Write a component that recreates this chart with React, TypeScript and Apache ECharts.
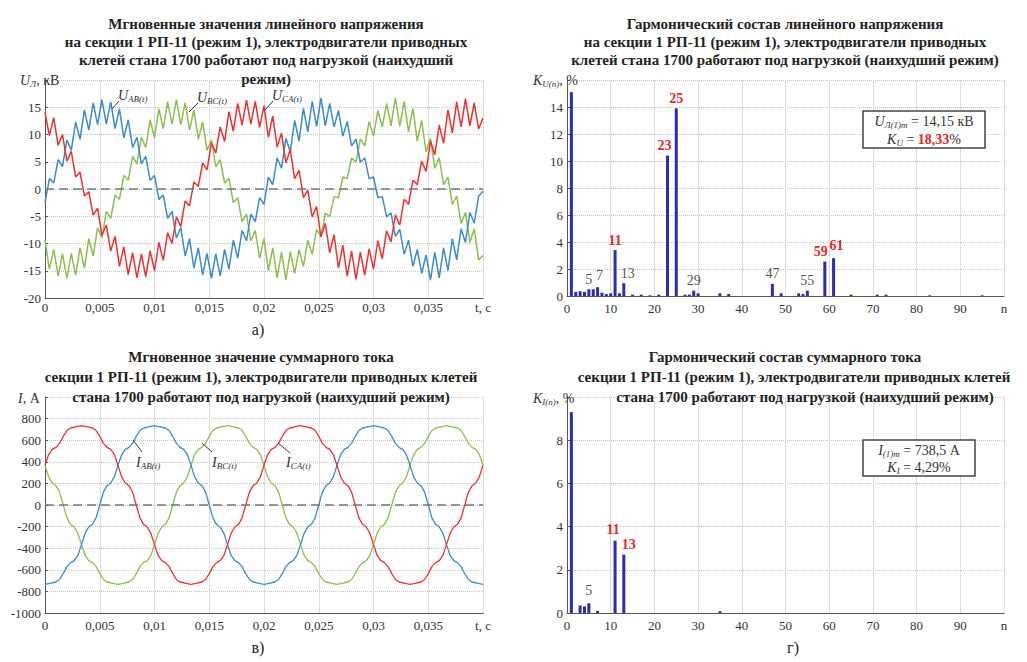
import React, { useEffect, useRef } from "react";
import * as echarts from "echarts";

const FONT = "Liberation Serif";
const RED = "#e8252b";
const C_BLUE = "#3a8bd0";
const C_GREEN = "#8cbf4f";
const C_RED = "#f03030";
const BAR = "#2b2bb8";

// ---------- time grids ----------
const TIME_U = [0,0.0004,0.0008,0.0012,0.0016,0.002,0.0024,0.0028,0.0032,0.0036,0.004,0.0044,0.0048,0.0052,0.0056,0.006,0.0064,0.0068,0.0072,0.0076,0.008,0.0084,0.0088,0.0092,0.0096,0.01,0.0104,0.0108,0.0112,0.0116,0.012,0.0124,0.0128,0.0132,0.0136,0.014,0.0144,0.0148,0.0152,0.0156,0.016,0.0164,0.0168,0.0172,0.0176,0.018,0.0184,0.0188,0.0192,0.0196,0.02,0.0204,0.0208,0.0212,0.0216,0.022,0.0224,0.0228,0.0232,0.0236,0.024,0.0244,0.0248,0.0252,0.0256,0.026,0.0264,0.0268,0.0272,0.0276,0.028,0.0284,0.0288,0.0292,0.0296,0.03,0.0304,0.0308,0.0312,0.0316,0.032,0.0324,0.0328,0.0332,0.0336,0.034,0.0344,0.0348,0.0352,0.0356,0.036,0.0364,0.0368,0.0372,0.0376,0.038,0.0384,0.0388,0.0392,0.0396,0.04];

const TIME_I = [0,0.000333,0.000667,0.001,0.001333,0.001667,0.002,0.002333,0.002667,0.003,0.003333,0.003667,0.004,0.004333,0.004667,0.005,0.005333,0.005667,0.006,0.006333,0.006667,0.007,0.007333,0.007667,0.008,0.008333,0.008667,0.009,0.009333,0.009667,0.01,0.010333,0.010667,0.011,0.011333,0.011667,0.012,0.012333,0.012667,0.013,0.013333,0.013667,0.014,0.014333,0.014667,0.015,0.015333,0.015667,0.016,0.016333,0.016667,0.017,0.017333,0.017667,0.018,0.018333,0.018667,0.019,0.019333,0.019667,0.02,0.020333,0.020667,0.021,0.021333,0.021667,0.022,0.022333,0.022667,0.023,0.023333,0.023667,0.024,0.024333,0.024667,0.025,0.025333,0.025667,0.026,0.026333,0.026667,0.027,0.027333,0.027667,0.028,0.028333,0.028667,0.029,0.029333,0.029667,0.03,0.030333,0.030667,0.031,0.031333,0.031667,0.032,0.032333,0.032667,0.033,0.033333,0.033667,0.034,0.034333,0.034667,0.035,0.035333,0.035667,0.036,0.036333,0.036667,0.037,0.037333,0.037667,0.038,0.038333,0.038667,0.039,0.039333,0.039667,0.04];

// ---------- line voltages, kV ----------
const U_AB = [-2.5,1.9,1.1,5.4,4.1,9.0,7.1,12.3,9.1,14.5,10.8,15.8,11.8,16.4,11.9,16.0,11.1,14.7,9.4,12.7,7.6,9.5,4.6,6.0,1.6,2.5,-1.9,-1.1,-5.4,-4.1,-9.0,-7.1,-12.3,-9.1,-14.5,-10.8,-15.8,-11.8,-16.4,-11.9,-16.0,-11.1,-14.7,-9.4,-12.7,-7.6,-9.5,-4.6,-6.0,-1.6,
  -2.8,2.2,0.8,5.7,3.8,9.3,6.8,12.6,8.8,14.8,10.5,16.1,11.5,16.7,11.6,15.7,11.4,14.4,9.7,12.4,7.9,9.2,4.9,5.7,1.9,2.2,-1.6,-1.4,-5.1,-4.4,-8.7,-7.4,-12.0,-9.4,-14.2,-11.1,-15.5,-12.1,-16.7,-11.6,-16.3,-10.8,-15.0,-9.1,-13.0,-7.3,-9.8,-4.3,-6.3,-1.3,-0.4];
const U_BC = [-9.4,-14.7,-11.1,-16.0,-11.9,-16.4,-11.8,-15.8,-10.8,-14.5,-9.1,-12.3,-7.1,-9.0,-4.1,-5.4,-1.1,-1.9,2.5,1.6,6.0,4.6,9.5,7.6,12.7,9.4,14.7,11.1,16.0,11.9,16.4,11.8,15.8,10.8,14.5,9.1,12.3,7.1,9.0,4.1,5.4,1.1,1.9,-2.5,-1.6,-6.0,-4.6,-9.5,-7.6,-12.7,
  -9.1,-15.0,-10.8,-16.3,-11.6,-16.7,-11.5,-15.5,-11.1,-14.2,-9.4,-12.0,-7.4,-8.7,-4.4,-5.1,-1.4,-1.6,2.2,1.9,5.7,4.9,9.2,7.9,12.4,9.7,14.4,11.4,15.7,11.6,16.7,11.5,16.1,10.5,14.8,8.8,12.6,6.8,9.3,3.8,5.7,0.8,2.2,-2.8,-1.3,-6.3,-4.3,-9.8,-7.3,-13.0,-12.2];
const U_CA = [14.0,9.8,13.1,8.0,10.0,5.1,6.9,2.2,3.1,-1.3,-0.5,-4.8,-3.5,-8.5,-6.6,-11.4,-8.7,-14.2,-10.6,-15.7,-11.7,-16.3,-11.9,-16.1,-11.3,-15.0,-9.8,-13.1,-8.0,-10.0,-5.1,-6.9,-2.2,-3.1,1.3,0.5,4.8,3.5,8.5,6.6,11.4,8.7,14.2,10.6,15.7,11.7,16.3,11.9,16.1,11.3,
  15.3,9.5,13.4,7.7,10.3,4.8,7.2,1.9,3.4,-1.6,-0.2,-5.1,-3.2,-8.8,-6.3,-11.7,-8.4,-14.5,-10.3,-16.0,-11.4,-16.6,-11.6,-15.8,-11.0,-14.7,-9.5,-12.8,-7.7,-9.7,-4.8,-6.6,-1.9,-2.8,1.6,0.8,5.1,3.2,8.8,6.3,11.7,8.4,14.5,10.3,16.0,11.4,16.6,11.6,15.8,11.0,13.0];

// ---------- currents, A ----------
const I_AB = [-734,-728,-720,-713,-690,-636,-571,-533,-515,-467,-367,-261,-204,-179,-119,0,119,179,204,261,367,467,515,533,571,636,690,713,720,728,
  734,728,720,713,690,636,571,533,515,467,367,261,204,179,119,0,-119,-179,-204,-261,-367,-467,-515,-533,-571,-636,-690,-713,-720,-728,
  -734,-728,-720,-713,-690,-636,-571,-533,-515,-467,-367,-261,-204,-179,-119,0,119,179,204,261,367,467,515,533,571,636,690,713,720,728,
  734,728,720,713,690,636,571,533,515,467,367,261,204,179,119,0,-119,-179,-204,-261,-367,-467,-515,-533,-571,-636,-690,-713,-720,-728,-734];
const I_BC = [367,261,204,179,119,0,-119,-179,-204,-261,-367,-467,-515,-533,-571,-636,-690,-713,-720,-728,-734,-728,-720,-713,-690,-636,-571,-533,-515,-467,-367,-261,-204,-179,-119,0,119,179,204,261,367,467,515,533,571,636,690,713,720,728,
  734,728,720,713,690,636,571,533,515,467,367,261,204,179,119,0,-119,-179,-204,-261,-367,-467,-515,-533,-571,-636,-690,-713,-720,-728,-734,-728,-720,-713,-690,-636,-571,-533,-515,-467,-367,-261,-204,-179,-119,0,119,179,204,261,367,467,515,533,571,636,690,713,720,728,
  734,728,720,713,690,636,571,533,515,467,367];
const I_CA = [367,467,515,533,571,636,690,713,720,728,
  734,728,720,713,690,636,571,533,515,467,367,261,204,179,119,0,-119,-179,-204,-261,-367,-467,-515,-533,-571,-636,-690,-713,-720,-728,-734,-728,-720,-713,-690,-636,-571,-533,-515,-467,-367,-261,-204,-179,-119,0,119,179,204,261,367,467,515,533,571,636,690,713,720,728,
  734,728,720,713,690,636,571,533,515,467,367,261,204,179,119,0,-119,-179,-204,-261,-367,-467,-515,-533,-571,-636,-690,-713,-720,-728,-734,-728,-720,-713,-690,-636,-571,-533,-515,-467,-367,-261,-204,-179,-119,0,119,179,204,261,367];

// ---------- harmonic spectra, % ----------
const HARM_U_N = [1,2,3,4,5,6,7,8,9,10,11,12,13,15,17,19,21,23,25,27,28,29,30,35,37,47,49,53,54,55,59,61,65,71,73,83,95];
const HARM_U_VAL = [15.1,0.3,0.35,0.3,0.5,0.5,0.65,0.25,0.15,0.2,3.4,0.2,0.95,0.1,0.1,0.05,0.1,10.4,13.9,0.1,0.1,0.4,0.2,0.2,0.15,0.9,0.2,0.2,0.15,0.4,2.55,2.8,0.1,0.1,0.1,0.05,0.05];
const HARM_U_LABELS: Record<number, string> = { 5: "g", 7: "g", 11: "r", 13: "g", 23: "r", 25: "r", 29: "g", 47: "g", 55: "g", 59: "r", 61: "r" };

const HARM_I_N = [1,3,4,5,7,11,13,35];
const HARM_I_VAL = [9.3,0.35,0.3,0.45,0.1,3.35,2.7,0.08];
const HARM_I_LABELS: Record<number, string> = { 5: "g", 11: "r", 13: "r" };

const LABEL_OFFSETS_U: Record<number, number[]> = { 13: [4, 0], 23: [-3, 0], 59: [-4, 0], 61: [3, -3], 7: [2, -2] };
const LABEL_OFFSETS_I: Record<number, number[]> = { 11: [-2, -1], 13: [5, 0], 5: [0, -3] };

const T_TICKS_FMT = (v: number) => {
  if (Math.abs(v - 0.04) < 1e-9) return "t, c";
  if (v === 0) return "0";
  return v.toFixed(3).replace(/0+$/, "").replace(".", ",");
};
const N_TICKS_FMT = (v: number) => (v === 100 ? "n" : String(v));

function zip(t: number[], v: number[]) {
  return t.map((x, i) => [x, v[i]]);
}

function barItems(ns: number[], vals: number[], labels: Record<number, string>, offs: Record<number, number[]>) {
  return ns.map((n, i) => {
    const lab = labels[n];
    const item: any = { value: [n, vals[i]] };
    if (lab) {
      item.label = {
        show: true,
        position: "top",
        distance: 3,
        formatter: String(n),
        color: lab === "r" ? RED : "#555",
        fontWeight: lab === "r" ? "bold" : "normal",
        fontSize: 14,
        fontFamily: FONT,
        offset: offs[n] || [0, 0],
      };
    }
    return item;
  });
}

const GRIDS = [
  { left: 45, top: 80, width: 438, height: 218 },
  { left: 567, top: 80, width: 437, height: 216 },
  { left: 45, top: 397, width: 438, height: 216 },
  { left: 567, top: 397, width: 437, height: 216 },
];

function xTime(gridIndex: number, margin: number) {
  return {
    type: "value", gridIndex, min: 0, max: 0.04, interval: 0.005,
    axisLine: { show: true, onZero: false, lineStyle: { color: "#555", width: 1 } },
    axisTick: { show: false },
    axisLabel: { color: "#333", fontSize: 13, fontFamily: FONT, formatter: T_TICKS_FMT, margin },
    splitLine: { show: true, lineStyle: { color: "#dcdcdc", width: 1 } },
  };
}
function xHarm(gridIndex: number) {
  return {
    type: "value", gridIndex, min: 0, max: 100, interval: 10,
    axisLine: { show: true, onZero: false, lineStyle: { color: "#555", width: 1.2 } },
    axisTick: { show: false },
    axisLabel: { color: "#333", fontSize: 13, fontFamily: FONT, formatter: N_TICKS_FMT, margin: 6 },
    splitLine: { show: true, lineStyle: { color: "#dcdcdc", width: 1 } },
  };
}
function yAx(gridIndex: number, min: number, max: number, interval: number) {
  return {
    type: "value", gridIndex, min, max, interval,
    axisLine: { show: true, onZero: false, lineStyle: { color: "#555", width: 1 } },
    axisTick: { show: true, inside: true, length: 3, lineStyle: { color: "#555" } },
    axisLabel: { color: "#333", fontSize: 13, fontFamily: FONT, margin: 4, formatter: (v: number) => (v === max ? "" : String(v)) },
    splitLine: { show: true, lineStyle: { color: "#c4c4c4", type: "dotted", width: 1 } },
  };
}

const RICH = {
  i: { fontFamily: FONT, fontStyle: "italic", fontSize: 14, lineHeight: 16, fill: "#333", verticalAlign: "middle" },
  s: { fontFamily: FONT, fontStyle: "italic", fontSize: 9, lineHeight: 8, fill: "#333", verticalAlign: "bottom" },
  n: { fontFamily: FONT, fontSize: 14, lineHeight: 16, fill: "#333", verticalAlign: "middle" },
  r: { fontFamily: FONT, fontSize: 14, lineHeight: 16, fill: RED, fontWeight: "bold", verticalAlign: "middle" },
};

function txt(text: string, x: number, y: number, extra: any = {}) {
  return {
    type: "text", x, y, z: 100,
    style: {
      text, fontFamily: FONT, fontSize: 15, fontWeight: "bold", fill: "#222",
      align: "center", textAlign: "center", verticalAlign: "middle", textVerticalAlign: "middle",
      ...extra,
    },
  };
}
function rich(text: string, x: number, y: number, align = "left") {
  return {
    type: "text", x, y, z: 100,
    style: { text, rich: RICH, align, textAlign: align, verticalAlign: "middle", textVerticalAlign: "middle", fill: "#333", fontFamily: FONT, fontSize: 14 },
  };
}
function seg(x1: number, y1: number, x2: number, y2: number) {
  return { type: "line", z: 100, shape: { x1, y1, x2, y2 }, style: { stroke: "#333", lineWidth: 1 } };
}

const zeroLine = {
  silent: true, symbol: "none", animation: false,
  label: { show: false },
  lineStyle: { type: [9, 5], color: "#777", width: 1.6 },
  data: [{ yAxis: 0 }],
};

function lineSeries(name: string, xi: number, t: number[], v: number[], color: string, width: number, extra: any = {}) {
  return {
    name, type: "line", xAxisIndex: xi, yAxisIndex: xi, data: zip(t, v),
    showSymbol: false, symbol: "none", smooth: false,
    lineStyle: { color, width }, itemStyle: { color }, ...extra,
  };
}

export default function App() {
  const ref = useRef<HTMLDivElement>(null);
  useEffect(() => {
    if (!ref.current) return;
    const chart = echarts.init(ref.current, undefined, { renderer: "svg" });
    const option: any = {
      animation: false,
      backgroundColor: "#fff",
      textStyle: { fontFamily: FONT },
      grid: GRIDS,
      xAxis: [xTime(0, 3), xHarm(1), xTime(2, 6), xHarm(3)],
      yAxis: [yAx(0, -20, 20, 5), yAx(1, 0, 16, 2), yAx(2, -1000, 1000, 200), yAx(3, 0, 10, 2)],
      series: [
        lineSeries("U_BC", 0, TIME_U, U_BC, C_GREEN, 1.5, { markLine: zeroLine }),
        lineSeries("U_AB", 0, TIME_U, U_AB, C_BLUE, 1.5),
        lineSeries("U_CA", 0, TIME_U, U_CA, C_RED, 1.5),
        {
          type: "bar", xAxisIndex: 1, yAxisIndex: 1, barWidth: 3,
          itemStyle: { color: BAR },
          data: barItems(HARM_U_N, HARM_U_VAL, HARM_U_LABELS, LABEL_OFFSETS_U),
        },
        lineSeries("I_BC", 2, TIME_I, I_BC, C_GREEN, 1.3, { markLine: zeroLine }),
        lineSeries("I_AB", 2, TIME_I, I_AB, C_BLUE, 1.3),
        lineSeries("I_CA", 2, TIME_I, I_CA, C_RED, 1.3),
        {
          type: "bar", xAxisIndex: 3, yAxisIndex: 3, barWidth: 3,
          itemStyle: { color: BAR },
          data: barItems(HARM_I_N, HARM_I_VAL, HARM_I_LABELS, LABEL_OFFSETS_I),
        },
      ],
      graphic: [
        // titles
        txt("Мгновенные значения линейного напряжения", 266, 24),
        txt("на секции 1 РП-11 (режим 1), электродвигатели приводных", 266, 42),
        txt("клетей стана 1700 работают под нагрузкой (наихудший", 266, 60),
        txt("режим)", 266, 79),
        txt("Гармонический состав линейного напряжения", 785, 24),
        txt("на секции 1 РП-11 (режим 1), электродвигатели приводных", 785, 42),
        txt("клетей стана 1700 работают под нагрузкой (наихудший режим)", 785, 60),
        txt("Мгновенное значение суммарного тока", 261, 357),
        txt("секции 1 РП-11 (режим 1), электродвигатели приводных клетей", 261, 377),
        txt("стана 1700 работают под нагрузкой (наихудший режим)", 261, 397),
        txt("Гармонический состав суммарного тока", 785, 357),
        txt("секции 1 РП-11 (режим 1), электродвигатели приводных клетей", 794, 377),
        txt("стана 1700 работают под нагрузкой (наихудший режим)", 805, 397),
        // axis names
        rich("{i|U}{s|Л}{n|, кВ}", 20, 80),
        rich("{i|K}{s|U(n)}{n|, %}", 533, 80),
        rich("{i|I}{n|, А}", 18, 398),
        rich("{i|K}{s|I(n)}{n|, %}", 533, 398),
        // curve labels
        rich("{i|U}{s|AB(t)}", 118, 95),
        rich("{i|U}{s|BC(t)}", 197, 97),
        rich("{i|U}{s|CA(t)}", 272, 95),
        seg(119, 101, 112, 109),
        seg(198, 103, 189, 112),
        seg(273, 101, 265, 110),
        rich("{i|I}{s|AB(t)}", 136, 462),
        rich("{i|I}{s|BC(t)}", 212, 462),
        rich("{i|I}{s|CA(t)}", 286, 462),
        seg(133, 440, 142, 452),
        seg(202, 443, 212, 452),
        seg(278, 443, 290, 453),
        // info boxes
        { type: "rect", z: 99, shape: { x: 863, y: 111, width: 122, height: 37 }, style: { fill: "#fff", stroke: "#444", lineWidth: 1.5 } },
        rich("{i|U}{s|Л(1)m}{n| = 14,15 кВ}", 924, 121, "center"),
        rich("{i|K}{s|U}{n| = }{r|18,33}{n|%}", 924, 139, "center"),
        { type: "rect", z: 99, shape: { x: 863, y: 440, width: 112, height: 36 }, style: { fill: "#fff", stroke: "#444", lineWidth: 1.5 } },
        rich("{i|I}{s|(1)m}{n| = 738,5 А}", 919, 450, "center"),
        rich("{i|K}{s|I}{n| = 4,29%}", 919, 467, "center"),
        // captions
        txt("а)", 258, 329, { fontWeight: "normal", fontSize: 16 }),
        txt("в)", 258, 647, { fontWeight: "normal", fontSize: 16 }),
        txt("г)", 793, 647, { fontWeight: "normal", fontSize: 16 }),
      ],
    };
    chart.setOption(option);
    return () => chart.dispose();
  }, []);
  return <div ref={ref} style={{ position: "absolute", left: 0, top: 0, width: 1027, height: 662 }} />;
}
